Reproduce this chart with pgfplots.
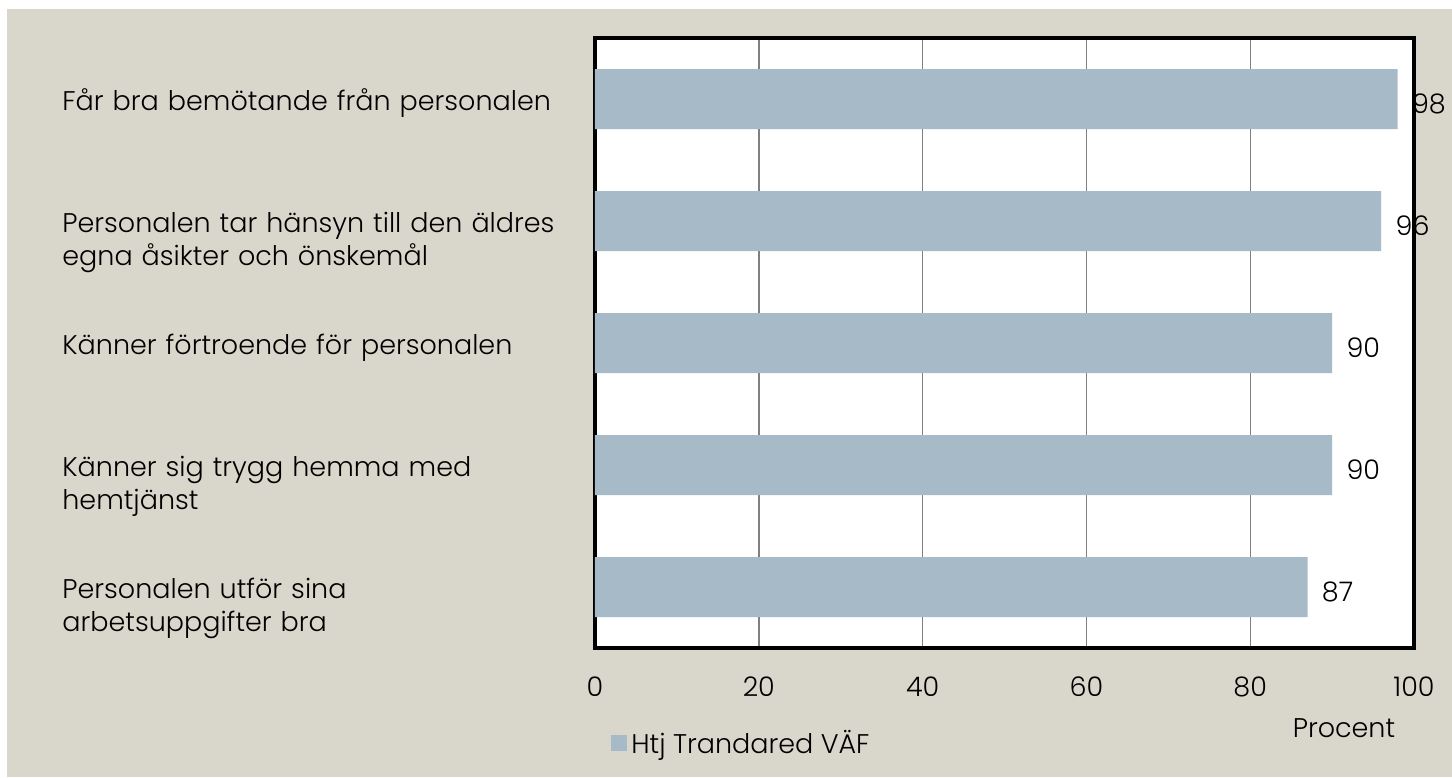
\documentclass[border=0pt]{standalone}
\usepackage{fontspec}
\setmainfont{Poppins}[UprightFont=* Light]
\usepackage{pgfplots}
\pgfplotsset{compat=1.18}
\definecolor{bgc}{RGB}{217,215,203}
\definecolor{barc}{RGB}{166,187,199}
\newcommand{\cf}{\fontsize{13.5}{16.5}\selectfont}
\begin{document}
\begin{tikzpicture}[x=1pt,y=1pt]
\fill[white] (0,0) rectangle (726,388.5);
\fill[bgc] (3.5,0) rectangle (726,384);
\useasboundingbox (0,0) rectangle (726,388.5);
\begin{axis}[at={(297.5pt,64.5pt)}, anchor=south west, scale only axis,
  width=409.5pt, height=305pt,
  xbar, bar width=30pt, xmin=0, xmax=100, ymin=-0.5, ymax=4.5, y dir=reverse,
  clip=false,
  axis background/.style={fill=white},
  axis line style={line width=2pt, black},
  xmajorgrids, grid style={gray, line width=0.7pt},
  xtick={0,20,...,100}, ytick={0,1,2,3,4},
  major tick length=0pt,
  /pgf/number format/assume math mode=true,
  xticklabel style={anchor=base, yshift=-24pt, font=\cf},
  yticklabels={{Får bra bemötande från personalen},
    {Personalen tar hänsyn till den äldres\\egna åsikter och önskemål},
    {Känner förtroende för personalen},
    {Känner sig trygg hemma med\\hemtjänst},
    {Personalen utför sina\\arbetsuppgifter bra}},
  yticklabel style={anchor=base west, text width=260pt, align=left, inner sep=0pt,
    xshift=-266.5pt, yshift=-5.5pt, font=\cf},
  xlabel={Procent},
  xlabel style={at={(axis description cs:0.9145,0)}, anchor=base, yshift=-44.5pt, font=\cf},
  nodes near coords,
  nodes near coords style={anchor=west, inner sep=0pt, xshift=7pt, yshift=-2.5pt, font=\cf},
  legend style={draw=none, fill=none, inner sep=0pt, at={(axis description cs:0,0)},
    anchor=west, xshift=8pt, yshift=-47.5pt, font=\cf},
  legend image code/.code={\fill[barc] (0pt,-4pt) rectangle (8pt,4pt);},
]
\addplot[fill=barc, draw=none] coordinates {(98,0) (96,1) (90,2) (90,3) (87,4)};
\addlegendentry{Htj Trandared VÄF}
\end{axis}
\end{tikzpicture}
\end{document}
